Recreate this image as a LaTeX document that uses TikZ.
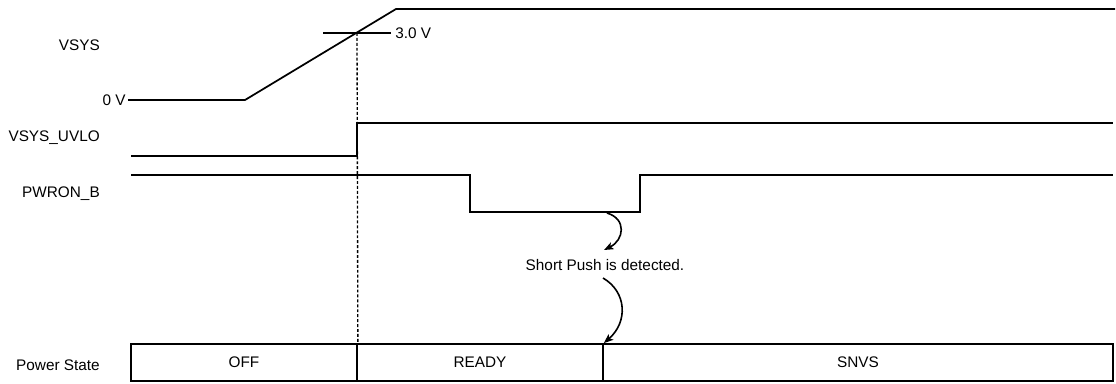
\documentclass[tikz,border=0pt]{standalone}
\usepackage{fontspec}
\setmainfont{Liberation Sans}
\usetikzlibrary{arrows.meta}
\begin{document}
\begin{tikzpicture}[x=0.75pt,y=-0.75pt,
  sig/.style={line width=1.3pt, line join=miter},
  lbl/.style={font=\fontsize{11.5}{13}\selectfont, inner sep=0pt},
  statebox/.style={draw, line width=1.3pt, minimum height=27.75pt, inner sep=0pt, font=\fontsize{11.5}{13}\selectfont},
  vdash/.style={line width=1pt, dash pattern=on 2.2pt off 1.5pt},
  curvearrow/.style={line width=1.2pt, -{Stealth[length=7pt,width=5.5pt,inset=1.5pt]}}]
\useasboundingbox (0,0) rectangle (1116,383);
% labels
\node[lbl, anchor=base east] (lvsys) at (100,50.5) {VSYS};
\node[lbl, anchor=base east] (lzero) at (126,105.5) {0 V};
\node[lbl, anchor=base east] (luvlo) at (100,141.5) {VSYS\_UVLO};
\node[lbl, anchor=base east] (lpwr) at (100,197.5) {PWRON\_B};
\node[lbl, anchor=base east] (lps) at (100,370.5) {Power State};
\node[lbl, anchor=base west] (lthree) at (395,38.5) {3.0 V};
% VSYS
\coordinate (v0) at (128,100);
\coordinate (v1) at (245,100);
\coordinate (v2) at (396,9);
\coordinate (v3) at (1115,9);
\draw[sig] (v0) -- (v1) -- (v2) -- (v3);
% threshold tick
\coordinate (t1) at (323,33);
\coordinate (t2) at (391,33);
\coordinate (cross) at (357,33);
\draw[sig] (t1) -- (t2);
% VSYS_UVLO
\coordinate (u0) at (131,156);
\coordinate (u1) at (357,156);
\coordinate (u2) at (357,123);
\coordinate (u3) at (1113,123);
\draw[sig] (u0) -- (u1) -- (u2) -- (u3);
% PWRON_B
\coordinate (p0) at (131,175);
\coordinate (p1) at (470,175);
\coordinate (p2) at (470,212);
\coordinate (p3) at (640,212);
\coordinate (p4) at (640,175);
\coordinate (p5) at (1113,175);
\draw[sig] (p0) -- (p1) -- (p2) -- (p3) -- (p4) -- (p5);
% power state boxes
\node[statebox, minimum width=169.5pt] (off) at (244,362.5) {OFF};
\node[statebox, minimum width=184.5pt] (ready) at (480,362.5) {READY};
\node[statebox, minimum width=382.5pt] (snvs) at (858,362.5) {SNVS};
% dashed marker
\draw[vdash] (cross) -- (off.north east);
% short push
\node[lbl] (sp) at (605,265) {Short Push is detected.};
\coordinate (a1s) at (607,213);
\coordinate (a1e) at (604,250);
\coordinate (a2s) at (603,278);
\draw[curvearrow] (a1s) .. controls (627,219) and (624,240) .. (a1e);
\draw[curvearrow] (a2s) .. controls (627,292) and (628,322) .. (ready.north east);
\end{tikzpicture}
\end{document}
